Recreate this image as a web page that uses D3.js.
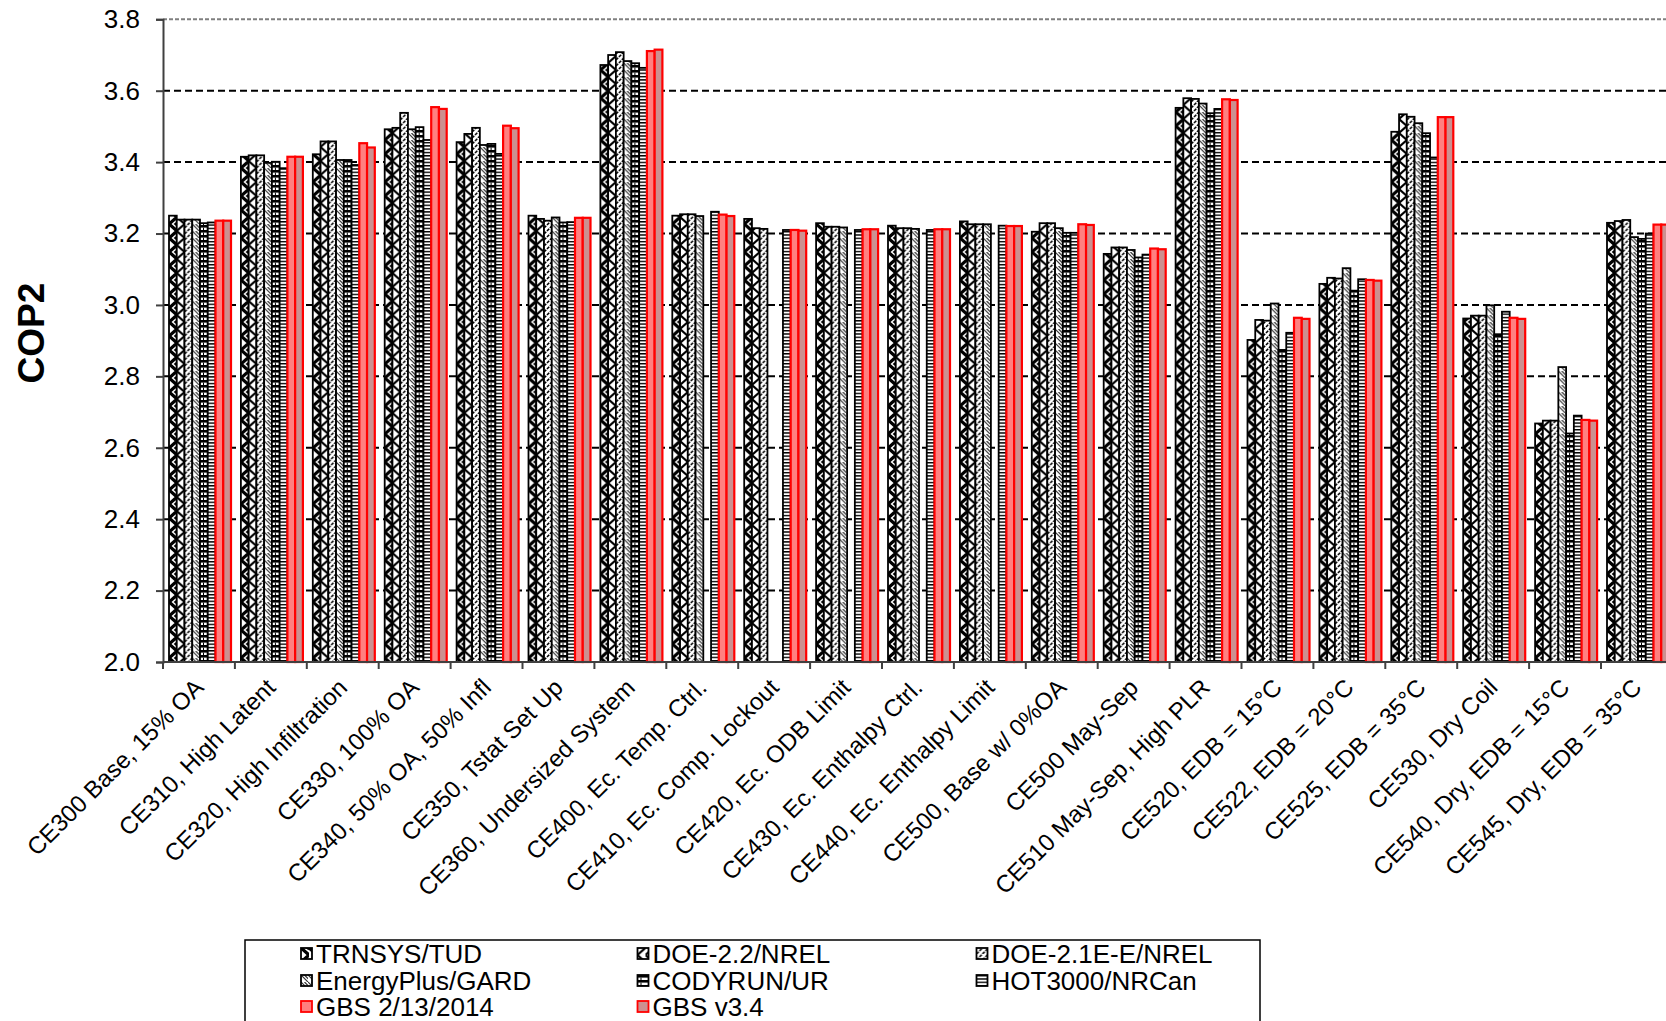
<!DOCTYPE html>
<html><head><meta charset="utf-8">
<script src="https://cdn.jsdelivr.net/npm/d3@7"></script>
<style>html,body{margin:0;padding:0;background:#fff;overflow:hidden}svg{display:block}</style>
</head><body>
<svg id="c" width="1666" height="1021"></svg>
<script>
const categories = ["CE300 Base, 15% OA","CE310, High Latent","CE320, High Infiltration","CE330, 100% OA","CE340, 50% OA, 50% Infl","CE350, Tstat Set Up","CE360, Undersized System","CE400, Ec. Temp. Ctrl.","CE410, Ec. Comp. Lockout","CE420, Ec. ODB Limit","CE430, Ec. Enthalpy Ctrl.","CE440, Ec. Enthalpy Limit","CE500, Base w/ 0%OA","CE500 May-Sep","CE510 May-Sep, High PLR","CE520, EDB = 15°C","CE522, EDB = 20°C","CE525, EDB = 35°C","CE530, Dry Coil","CE540, Dry, EDB = 15°C","CE545, Dry, EDB = 35°C"];
const seriesNames = ["TRNSYS/TUD","DOE-2.2/NREL","DOE-2.1E-E/NREL","EnergyPlus/GARD","CODYRUN/UR","HOT3000/NRCan","GBS 2/13/2014","GBS v3.4"];
const trnsys   = [3.250,3.415,3.422,3.492,3.456,3.250,3.672,3.250,3.241,3.229,3.222,3.234,3.205,3.143,3.552,2.902,3.059,3.485,2.962,2.668,3.230];
const doe22    = [3.239,3.419,3.458,3.496,3.479,3.241,3.700,3.254,3.215,3.219,3.215,3.226,3.229,3.161,3.579,2.958,3.076,3.534,2.970,2.676,3.235];
const doe21e   = [3.239,3.419,3.458,3.538,3.496,3.236,3.708,3.254,3.213,3.219,3.215,3.226,3.229,3.161,3.577,2.956,3.074,3.527,2.970,2.676,3.238];
const eplus    = [3.239,3.398,3.406,3.492,3.448,3.245,3.683,3.249,null,3.217,3.213,3.226,3.215,3.154,3.564,3.004,3.103,3.509,2.999,2.826,3.190];
const codyrun  = [3.229,3.401,3.406,3.498,3.451,3.231,3.677,null,null,null,null,null,3.202,3.133,3.537,2.874,3.040,3.481,2.918,2.640,3.185];
const hot3000  = [3.231,3.383,3.392,3.462,3.423,3.232,3.664,3.261,3.210,3.210,3.210,3.222,3.202,3.141,3.549,2.922,3.072,3.413,2.981,2.690,3.200];
const gbs2013  = [3.236,3.415,3.453,3.554,3.502,3.244,3.711,3.253,3.210,3.212,3.212,3.221,3.226,3.158,3.576,2.964,3.070,3.526,2.964,2.678,3.225];
const gbs34    = [3.236,3.415,3.441,3.549,3.495,3.244,3.715,3.249,3.208,3.212,3.212,3.221,3.224,3.156,3.574,2.961,3.068,3.526,2.961,2.676,3.225];
const yTicks = [2.0,2.2,2.4,2.6,2.8,3.0,3.2,3.4,3.6,3.8];

const seriesValues = [trnsys,doe22,doe21e,eplus,codyrun,hot3000,gbs2013,gbs34];

(function(){
const svg = d3.select("#c");
const FONT = "'Liberation Sans', Arial, sans-serif";
const mLeft = 163, mTop = 19.3, mBottom = 662, groupW = 71.9;

const defs = svg.append("defs");
function pat(id, w, h, draw){
  const p = defs.append("pattern").attr("id",id).attr("patternUnits","userSpaceOnUse").attr("width",w).attr("height",h);
  p.append("rect").attr("width",w).attr("height",h).attr("fill","#fff");
  draw(p);
}
// TRNSYS: heavy zigzag
pat("p0",8,14,p=>{p.append("path").attr("d","M-1,-1 L8,7 L-1,15").attr("stroke","#000").attr("stroke-width",3.2).attr("fill","none");
                  p.append("path").attr("d","M5,-1 L8,1.5 M5,15 L8,12.5").attr("stroke","#000").attr("stroke-width",2).attr("fill","none");});
// DOE-2.2: lighter zigzag opposite
pat("p1",8,14,p=>{p.append("path").attr("d","M9,-1 L0,7 L9,15").attr("stroke","#000").attr("stroke-width",2.2).attr("fill","none");});
// DOE-2.1E: dashed up-diagonal
pat("p2",6,6,p=>{p.append("path").attr("d","M0,6 L2.2,3.8 M3,3 L5.2,0.8 M-3,3 L-0.8,0.8 M6,6 L8.2,3.8 M3,9 L5.2,6.8").attr("stroke","#000").attr("stroke-width",1.6).attr("fill","none");});
// EnergyPlus: down-diagonal light
pat("p3",7,7,p=>{p.append("path").attr("d","M0,0 L7,7 M-3.5,3.5 L0,7 M3.5,0 L7,3.5 L10.5,7").attr("stroke","#333").attr("stroke-width",1.2).attr("fill","none");});
// CODYRUN: dark horizontal bricks
pat("p4",8,5,p=>{p.append("rect").attr("x",0).attr("y",0).attr("width",8).attr("height",2.6).attr("fill","#000");
                  p.append("rect").attr("x",3).attr("y",2.6).attr("width",1).attr("height",2.4).attr("fill","#000");});
// HOT3000: narrow horizontal
pat("p5",4,3.3,p=>{p.append("rect").attr("x",0).attr("y",0).attr("width",4).attr("height",1.4).attr("fill","#000");});
const fills = ["url(#p0)","url(#p1)","url(#p2)","url(#p3)","url(#p4)","url(#p5)","#ff8080","#cc9090"];
const strokes = ["#000","#000","#000","#000","#000","#000","#ff0000","#ff0000"];

const x0 = d3.scaleBand().domain(categories).range([mLeft, mLeft + groupW*categories.length]).paddingInner(0).paddingOuter(0);
const x1 = d3.scaleBand().domain(seriesNames).range([6, 68]).padding(0);
const y = d3.scaleLinear().domain([2.0,3.8]).range([mBottom, mTop]);

svg.append("g").selectAll("line").data(yTicks.filter(t=>t>2.0)).join("line")
  .attr("x1",mLeft).attr("x2",1700).attr("y1",d=>y(d)).attr("y2",d=>y(d))
  .attr("stroke",d=>d===3.8?"#808080":"#000").attr("stroke-width",2)
  .attr("stroke-dasharray",d=>d===3.8?"4,2":"7,4");

const g = svg.append("g");
categories.forEach((c,ci)=>{
  seriesNames.forEach((s,si)=>{
    const v = seriesValues[si][ci];
    if(v==null) return;
    g.append("g").attr("transform",`translate(${x0(c)+x1(s)},0)`)
     .append("rect")
      .attr("x", 0).attr("width", x1.bandwidth())
      .attr("y", y(v)).attr("height", y(2.0)-y(v))
      .attr("fill", fills[si]).attr("stroke", strokes[si]).attr("stroke-width", si>=6?2.2:1.8);
  });
});

const ya = svg.append("g").attr("transform",`translate(${mLeft},0)`)
  .call(d3.axisLeft(y).tickValues(yTicks).tickFormat(d3.format(".1f")).tickSize(7).tickPadding(16));
ya.select(".domain").attr("stroke","#404040").attr("stroke-width",2);
ya.selectAll(".tick line").attr("stroke","#404040").attr("stroke-width",2);
ya.selectAll("text").attr("font-family",FONT).attr("font-size",26).attr("fill","#000");

const xa = svg.append("g").attr("transform",`translate(0,${mBottom})`);
xa.append("line").attr("x1",mLeft).attr("x2",1700).attr("stroke","#404040").attr("stroke-width",2);
xa.selectAll("line.tk").data(d3.range(categories.length+1)).join("line").attr("class","tk")
  .attr("x1",i=>mLeft+i*x0.bandwidth()).attr("x2",i=>mLeft+i*x0.bandwidth()).attr("y1",0).attr("y2",7)
  .attr("stroke","#404040").attr("stroke-width",2);
xa.selectAll("text").data(categories).join("text")
  .attr("transform",d=>`translate(${x0(d)+x0.bandwidth()/2+6},${27}) rotate(-45)`)
  .attr("text-anchor","end").attr("font-family",FONT).attr("font-size",24).text(d=>d);

svg.append("text").attr("transform","translate(44,333) rotate(-90)").attr("text-anchor","middle")
  .attr("font-family",FONT).attr("font-weight","bold").attr("font-size",37).text("COP2");

svg.append("rect").attr("x",245).attr("y",940).attr("width",1015).attr("height",120)
  .attr("fill","#fff").attr("stroke","#000").attr("stroke-width",1.5);
const colX = [301,637.5,976.5], rowY = [954,981,1007];
seriesNames.forEach((s,i)=>{
  const r = Math.floor(i/3), c = i%3;
  const lg = svg.append("g").attr("transform",`translate(${colX[c]},${rowY[r]-6})`);
  lg.append("rect").attr("x",0).attr("y",0).attr("width",11).attr("height",11)
    .attr("fill",fills[i]).attr("stroke",strokes[i]).attr("stroke-width",1.8);
  lg.append("text").attr("x",15).attr("y",15).attr("font-family",FONT).attr("font-size",26).text(s);
});
})();
</script>
</body></html>
